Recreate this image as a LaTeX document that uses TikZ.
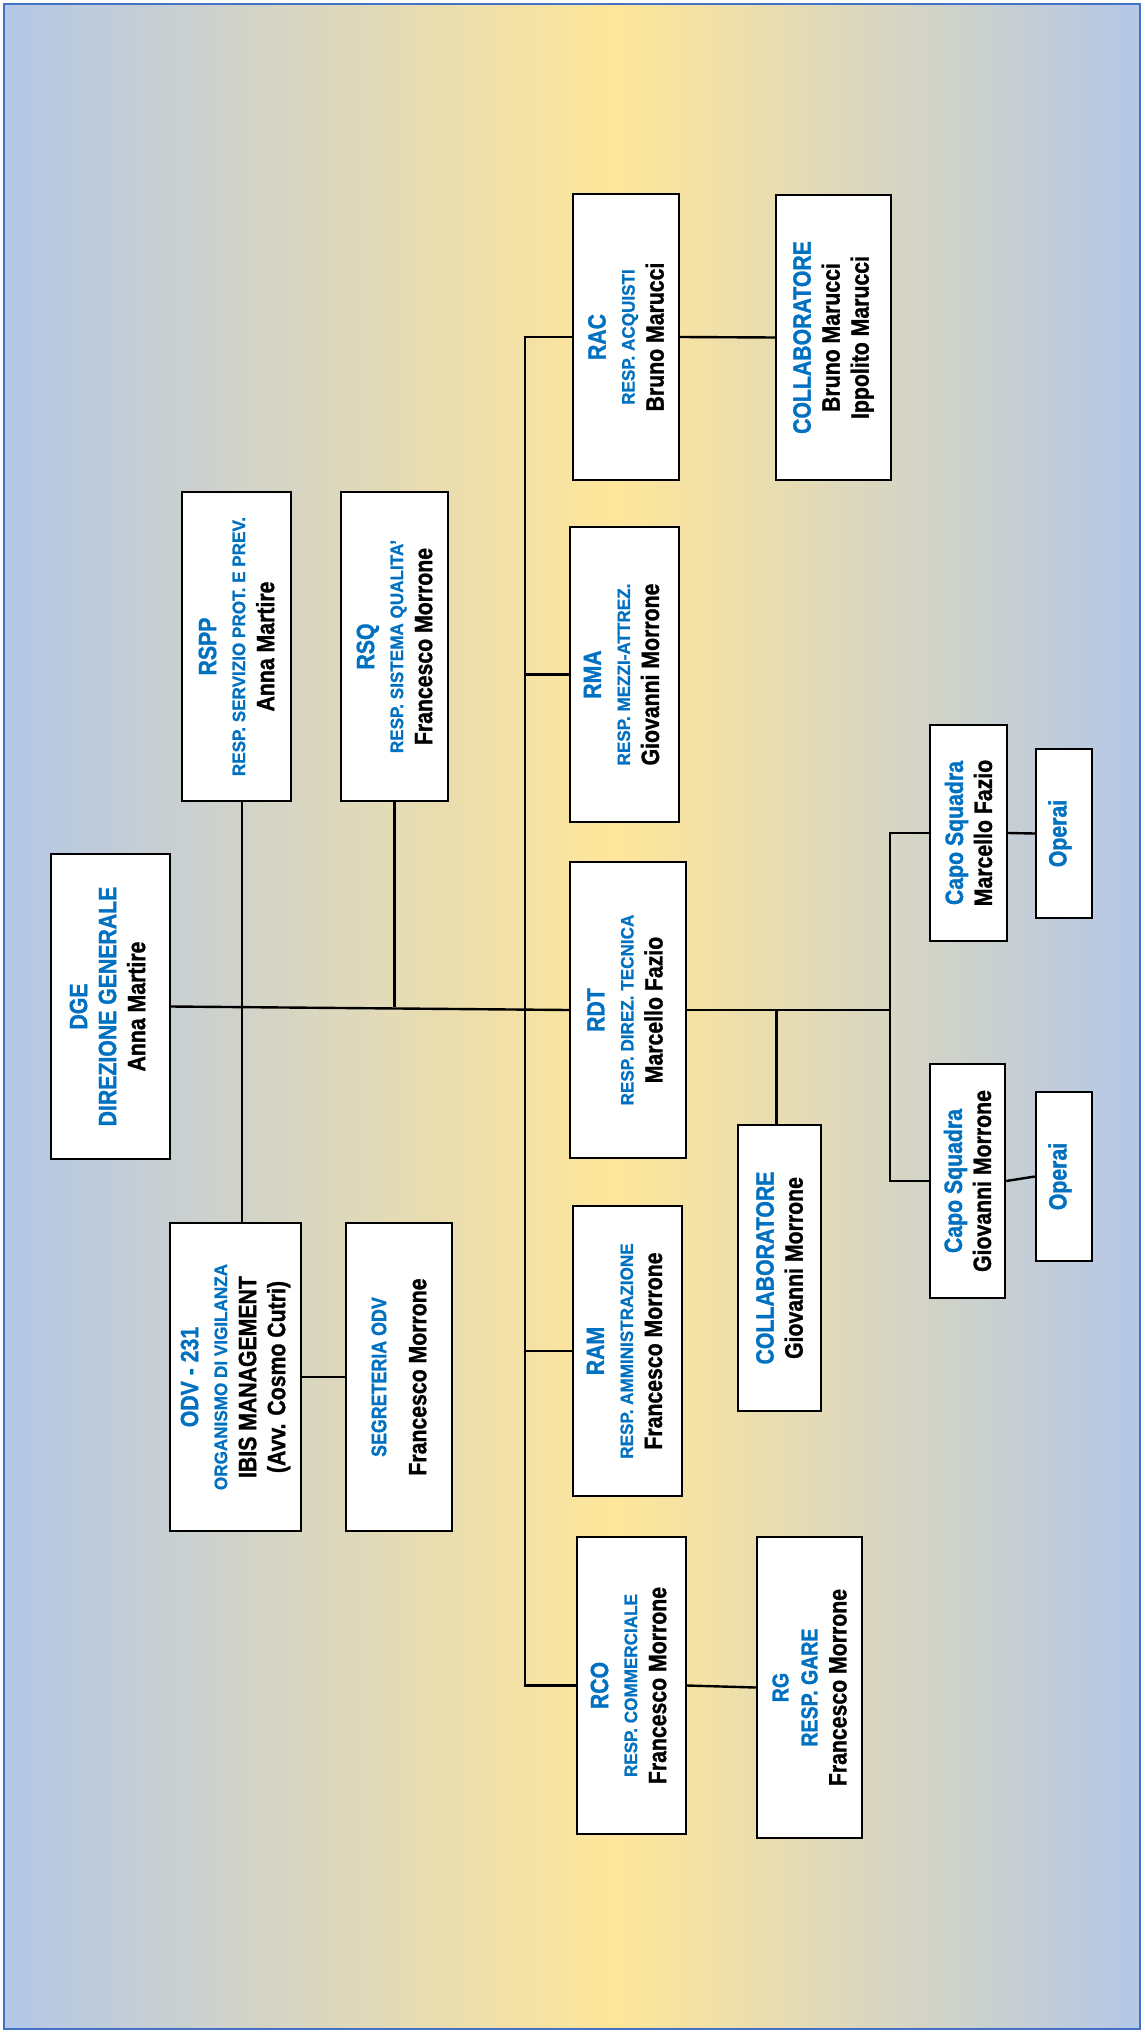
\documentclass[tikz,border=0pt]{standalone}
\usepackage{fontspec}
\setmainfont{Liberation Sans}
\newfontfamily\fbig{Liberation Sans}[FakeStretch=0.85, BoldFeatures={FakeBold=1.2}]
\newfontfamily\fsmall{Liberation Sans}[FakeStretch=0.95, BoldFeatures={FakeBold=0.8}]
\definecolor{tblue}{RGB}{0,112,192}
\definecolor{bgblue}{RGB}{180,199,231}
\definecolor{bgyellow}{RGB}{255,230,153}
\definecolor{frameblue}{RGB}{68,114,196}
\newcommand{\ttl}[1]{\textcolor{tblue}{#1}}
\newcommand{\subl}[1]{{\fsmall\bfseries\fontsize{18}{29}\selectfont\textcolor{tblue}{#1}}}
\newcommand{\midl}[1]{{\fontsize{21}{29}\selectfont\textcolor{tblue}{#1}}}
\newcommand{\rgl}[1]{{\fontsize{23}{29}\selectfont\textcolor{tblue}{#1}}}
\tikzset{
  box/.style={draw=black, line width=2.4pt, fill=white, inner sep=0pt},
  txt/.style={rotate=90, align=center, inner sep=0pt, text=black,
    font={\fbig\bfseries\fontsize{25}{29}\selectfont}},
  conn/.style={draw=black, line width=2.4pt},
}
\begin{document}
\begin{tikzpicture}[x=1pt,y=-1pt]
\useasboundingbox (0,0) rectangle (1144,2033);
% background
\shade[left color=bgblue, right color=bgyellow] (4,4) rectangle (615,2029);
\shade[left color=bgyellow, right color=bgblue] (615,4) rectangle (1140,2029);
\draw[frameblue, line width=2.4pt] (4,4) rectangle (1140,2029);

% boxes
\node[box, minimum width=119pt, minimum height=305pt] (dge) at (110.5,1006.5) {};
\node[box, minimum width=109pt, minimum height=309pt] (rspp) at (236.5,646.5) {};
\node[box, minimum width=107pt, minimum height=309pt] (rsq) at (394.5,646.5) {};
\node[box, minimum width=131pt, minimum height=308pt] (odv) at (235.5,1377) {};
\node[box, minimum width=106pt, minimum height=308pt] (segr) at (399,1377) {};
\node[box, minimum width=106pt, minimum height=286pt] (rac) at (626,337) {};
\node[box, minimum width=115pt, minimum height=285pt] (collab1) at (833.5,337.5) {};
\node[box, minimum width=109pt, minimum height=295pt] (rma) at (624.5,674.5) {};
\node[box, minimum width=116pt, minimum height=296pt] (rdt) at (628,1010) {};
\node[box, minimum width=109pt, minimum height=290pt] (ram) at (627.5,1351) {};
\node[box, minimum width=109pt, minimum height=297pt] (rco) at (631.5,1685.5) {};
\node[box, minimum width=105pt, minimum height=301pt] (rg) at (809.5,1687.5) {};
\node[box, minimum width=83pt, minimum height=286pt] (collab2) at (779.5,1268) {};
\node[box, minimum width=77pt, minimum height=216pt] (capo1) at (968.5,833) {};
\node[box, minimum width=56pt, minimum height=169pt] (operai1) at (1064,833.5) {};
\node[box, minimum width=75pt, minimum height=234pt] (capo2) at (967.5,1181) {};
\node[box, minimum width=56pt, minimum height=169pt] (operai2) at (1064,1176.5) {};

% texts
\node[txt] (t-dge) at ([xshift=-3pt]dge.center) {\ttl{DGE}\\ \ttl{DIREZIONE GENERALE}\\ Anna Martire};
\node[txt] (t-rspp) at (rspp.center) {\ttl{RSPP}\\ \subl{RESP. SERVIZIO PROT. E PREV.}\\ Anna Martire};
\node[txt] (t-rsq) at (rsq.center) {\ttl{RSQ}\\ \subl{RESP. SISTEMA QUALITA’}\\ Francesco Morrone};
\node[txt] (t-odv) at (odv.center) {\ttl{ODV - 231}\\ \subl{ORGANISMO DI VIGILANZA}\\ IBIS MANAGEMENT\\ (Avv. Cosmo Cutri)};
\node[txt] (t-segr) at (segr.center) {\midl{SEGRETERIA ODV}\\[11pt] Francesco Morrone};
\node[txt] (t-rac) at (rac.center) {\ttl{RAC}\\ \subl{RESP. ACQUISTI}\\ Bruno Marucci};
\node[txt] (t-collab1) at (collab1.center) {\ttl{COLLABORATORE}\\ Bruno Marucci\\ Ippolito Marucci};
\node[txt] (t-rma) at ([xshift=-3pt]rma.center) {\ttl{RMA}\\ \subl{RESP. MEZZI-ATTREZ.}\\ Giovanni Morrone};
\node[txt] (t-rdt) at ([xshift=-3pt]rdt.center) {\ttl{RDT}\\ \subl{RESP. DIREZ. TECNICA}\\ Marcello Fazio};
\node[txt] (t-ram) at ([xshift=-3pt]ram.center) {\ttl{RAM}\\ \subl{RESP. AMMINISTRAZIONE}\\ Francesco Morrone};
\node[txt] (t-rco) at ([xshift=-3pt]rco.center) {\ttl{RCO}\\ \subl{RESP. COMMERCIALE}\\ Francesco Morrone};
\node[txt] (t-rg) at (rg.center) {\rgl{RG}\\ \rgl{RESP. GARE}\\ Francesco Morrone};
\node[txt] (t-collab2) at (collab2.center) {\ttl{COLLABORATORE}\\ Giovanni Morrone};
\node[txt] (t-capo1) at (capo1.center) {\ttl{Capo Squadra}\\ Marcello Fazio};
\node[txt] (t-operai1) at ([xshift=-4pt]operai1.center) {\ttl{Operai}};
\node[txt] (t-capo2) at (capo2.center) {\ttl{Capo Squadra}\\ Giovanni Morrone};
\node[txt] (t-operai2) at ([xshift=-4pt]operai2.center) {\ttl{Operai}};

% connectors
\coordinate (busx) at (525,0);
\coordinate (sqx) at (890,0);
\draw[conn] (dge.east) -- (rdt.west);
\draw[conn] ([xshift=5.5pt]rspp.south) -- ([xshift=5.5pt]rspp.south |- odv.north);
\draw[conn] (rsq.south) -- (rsq.south |- dge.east);
\draw[conn] (rac.west) -- (rac.west -| busx) -- (rco.west -| busx) -- (rco.west);
\draw[conn] (rma.west) -- (rma.west -| busx);
\draw[conn] (ram.west) -- (ram.west -| busx);
\draw[conn] (rac.east) -- (collab1.west);
\draw[conn] (odv.east) -- (segr.west);
\draw[conn] (rco.east) -- (rg.west);
\draw[conn] (rdt.east) -- (rdt.east -| sqx);
\draw[conn] (capo1.west) -- (capo1.west -| sqx) -- (capo2.west -| sqx) -- (capo2.west);
\draw[conn] ([xshift=-3pt]collab2.north) -- ([xshift=-3pt]collab2.north |- rdt.east);
\draw[conn] (capo1.east) -- (operai1.west);
\draw[conn] (capo2.east) -- (operai2.west);
\end{tikzpicture}
\end{document}
